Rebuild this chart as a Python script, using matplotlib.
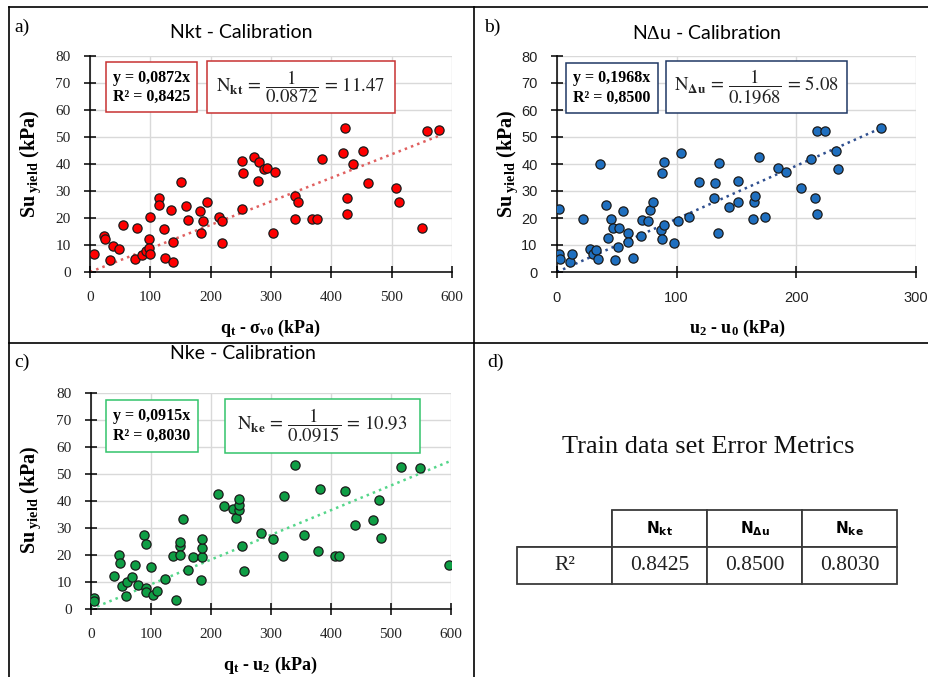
import matplotlib
matplotlib.use("Agg")
import matplotlib.pyplot as plt
from matplotlib.lines import Line2D
from matplotlib.patches import Rectangle

# --- données ---
a_x = [7, 23, 25, 33, 38, 48, 55, 74, 78, 86, 92, 97, 97, 99, 100, 114, 115, 123, 125, 134,
       138, 138, 151, 159, 162, 182, 184, 187, 194, 213, 218, 219, 252, 253, 252, 271, 280, 279, 288, 293,
       303, 306, 340, 345, 340, 368, 376, 385, 420, 423, 426, 426, 436, 453, 461, 507, 512, 550, 559, 578]
a_y = [6.5, 13.3, 12.4, 4.3, 9.5, 8.7, 17.4, 4.9, 16.2, 6.4, 7.9, 12.2, 9.0, 6.8, 20.2, 27.4, 25.0, 15.8, 5.3, 23.1,
       11.1, 3.7, 33.2, 24.4, 19.4, 22.5, 14.6, 18.8, 26.0, 20.2, 10.8, 18.8, 41.0, 36.7, 23.3, 42.6, 40.6, 33.6, 38.2, 38.4,
       14.4, 37.0, 28.1, 26.0, 19.8, 19.8, 19.8, 41.8, 43.9, 53.3, 27.4, 21.5, 40.1, 44.7, 32.9, 31.1, 26.0, 16.4, 52.2, 52.6]

b_x = [1.4, 1.4, 2.2, 10.8, 12.8, 21.4, 27.3, 30, 32.8, 34.2, 36.2, 40.6, 42.8, 45.3, 46.7, 48.4, 50.6, 51.7, 55.4, 59.5,
       59.5, 63.1, 70.4, 70.9, 75.7, 77.9, 80.1, 87.3, 87.9, 87.9, 89.6, 89.8, 97.6, 101.5, 103.8, 110.7, 118.5, 131, 131.8, 134.6,
       135.5, 144, 151, 151.3, 163.8, 164.4, 165.2, 168.6, 173.6, 185, 191.4, 204.2, 212, 216, 217, 217, 224, 233, 235, 270.7]
b_y = [23.4, 6.5, 4.7, 3.7, 6.8, 19.8, 8.7, 6.5, 8.2, 5.0, 40.1, 25.0, 12.6, 19.8, 16.4, 4.4, 9.1, 16.4, 22.5, 14.6,
       11.2, 5.3, 13.4, 19.4, 18.8, 23.0, 26.0, 15.6, 36.8, 12.2, 17.4, 40.9, 10.8, 18.8, 43.9, 20.2, 33.2, 27.4, 32.9, 14.4,
       40.5, 24.2, 33.6, 26.0, 19.8, 26.0, 28.1, 42.7, 20.2, 38.4, 37.0, 31.1, 41.8, 27.4, 52.4, 21.5, 52.2, 44.7, 38.2, 53.3]

c_x = [4.4, 4.4, 38, 47, 48, 51, 58, 60, 68, 74, 78, 88, 92, 92, 92, 100, 103, 110, 123, 141,
       136, 148, 148, 149, 153, 161, 170, 183, 185, 185, 185, 211, 221, 237, 241, 246, 247, 247, 252, 255,
       283, 304, 320, 322, 340, 355, 378, 382, 407, 413, 424, 440, 470, 480, 484, 516, 548, 596]
c_y = [4.1, 3.0, 12.3, 20.0, 17.2, 8.4, 4.7, 10.0, 12.0, 16.3, 8.9, 27.3, 24.2, 7.9, 6.2, 15.4, 5.1, 6.5, 11.1, 3.5,
       19.8, 23.2, 24.9, 20.0, 33.2, 14.6, 19.3, 10.9, 19.3, 22.5, 25.9, 42.6, 38.0, 37.0, 33.6, 36.8, 38.5, 40.7, 23.2, 14.1,
       28.0, 25.8, 19.8, 41.9, 53.2, 27.3, 21.5, 44.6, 19.8, 19.8, 43.8, 31.1, 32.8, 40.5, 26.3, 52.6, 52.2, 16.3]

pentes = [0.0872, 0.1968, 0.0915]
r2 = [0.8425, 0.8500, 0.8030]
facteurs = ["11.47", "5.08", "10.93"]
noms_n = ["kt", r"\Delta u", "ke"]
titres = [r"Nkt - Calibration", r"N$\Delta$u - Calibration", r"Nke - Calibration"]
xlabels = ["q$_{\\mathbf{t}}$ - σ$_{\\mathbf{v0}}$ (kPa)", "u$_{\\mathbf{2}}$ - u$_{\\mathbf{0}}$ (kPa)",
           "q$_{\\mathbf{t}}$ - u$_{\\mathbf{2}}$ (kPa)"]
table_cols = ["", "N$_{\\mathbf{kt}}$", "N$_{\\mathbf{\\Delta u}}$", "N$_{\\mathbf{ke}}$"]

plt.rcParams["mathtext.fontset"] = "custom"
plt.rcParams["mathtext.rm"] = "Liberation Serif"
plt.rcParams["mathtext.bf"] = "Liberation Serif:bold"
plt.rcParams["mathtext.it"] = "Liberation Serif:italic"

W, H = 929, 677
fig = plt.figure(figsize=(W / 100, H / 100), dpi=100)


def fx(x):
    return x / W


def fy(y):
    return 1 - y / H


def boite(x0, y0, x1, y1, couleur):
    fig.add_artist(Rectangle((fx(x0), fy(y1)), fx(x1) - fx(x0), fy(y0) - fy(y1),
                             transform=fig.transFigure, fill=True, fc="white",
                             ec=couleur, lw=1.1, zorder=5))


# cadre général
for (xa, ya, xb, yb) in [(9, 7, 929, 7), (9, 7, 9, 677), (474, 7, 474, 677), (9, 343, 929, 343)]:
    fig.add_artist(Line2D([fx(xa), fx(xb)], [fy(ya), fy(yb)], transform=fig.transFigure,
                          color="black", lw=1.2))

panneaux = [
    dict(pos=(90, 56, 452, 272), x=a_x, y=a_y, xmax=600, col="#ff0000", ligne="#e06060",
         bord="#c83232", serif=True, lab="a)", labpos=(14, 27), titre=(241, 33), ylab=(31, 164),
         xl=(270, 328), b1=(106, 62, 197, 112), b2=(207, 61, 395, 113)),
    dict(pos=(557, 56, 916, 272), x=b_x, y=b_y, xmax=300, col="#1f6fbf", ligne="#2f4f8f",
         bord="#1f3864", serif=False, lab="b)", labpos=(484, 27), titre=(707, 33), ylab=(508, 164),
         xl=(737, 328), b1=(566, 63, 658, 113), b2=(666, 61, 847, 113)),
    dict(pos=(91, 393, 451, 609), x=c_x, y=c_y, xmax=600, col="#0f9e45", ligne="#55d68a",
         bord="#33c46b", serif=True, lab="c)", labpos=(14, 362), titre=(243, 353), ylab=(31, 500),
         xl=(270, 665), b1=(106, 400, 198, 452), b2=(225, 399, 420, 453)),
]

for i, p in enumerate(panneaux):
    x0, y0, x1, y1 = p["pos"]
    ax = fig.add_axes([fx(x0), fy(y1), fx(x1) - fx(x0), fy(y0) - fy(y1)])
    ax.scatter(p["x"], p["y"], s=44, c=p["col"], edgecolors="#1a1a1a", linewidths=0.9, zorder=3)
    xm = max(p["x"])
    ax.plot([0, xm], [0, pentes[i] * xm], ls=":", lw=1.8, color=p["ligne"], zorder=2)
    ax.set_xlim(0, p["xmax"])
    ax.set_ylim(0, 80)
    ax.set_xticks(range(0, p["xmax"] + 1, 100))
    ax.set_yticks(range(0, 81, 10))
    ax.grid(True, color="#d9d9d9", lw=1)
    ax.set_axisbelow(True)
    for s in ["top", "right"]:
        ax.spines[s].set_visible(False)
    for s in ["left", "bottom"]:
        ax.spines[s].set_linewidth(1.1)
    ax.tick_params(direction="inout", length=8, width=1.1, pad=10)
    tfont = "Liberation Serif" if p["serif"] else "Liberation Sans"
    tsize = 11 if p["serif"] else 10.5
    for t in ax.get_xticklabels() + ax.get_yticklabels():
        t.set_fontfamily(tfont)
        t.set_fontsize(tsize)
        t.set_color("#222222")

    fig.text(fx(p["labpos"][0]), fy(p["labpos"][1]), p["lab"], family="Liberation Serif",
             fontsize=14, va="center", ha="left")
    fig.text(fx(p["titre"][0]), fy(p["titre"][1]), titres[i], family="Lato", fontsize=14,
             va="center", ha="center")
    fig.text(fx(p["ylab"][0]), fy(p["ylab"][1]), "Su$_{\\mathbf{\\ yield}}$ (kPa)",
             family="Liberation Serif", weight="bold", fontsize=14.5, rotation=90,
             va="center", ha="center")
    fig.text(fx(p["xl"][0]), fy(p["xl"][1]), xlabels[i], family="Liberation Serif",
             weight="bold", fontsize=13, va="center", ha="center")

    bx0, by0, bx1, by1 = p["b1"]
    boite(bx0, by0, bx1, by1, p["bord"])
    fig.text(fx((bx0 + bx1) / 2), fy((by0 + by1) / 2),
             f"y = {pentes[i]:.4f}x\nR² = {r2[i]:.4f}".replace(".", ","),
             family="Liberation Serif", weight="bold", fontsize=11.5, va="center", ha="center",
             linespacing=1.25, zorder=6)
    bx0, by0, bx1, by1 = p["b2"]
    boite(bx0, by0, bx1, by1, p["bord"])
    formule = (r"$\mathrm{N}_{\mathbf{" + noms_n[i] + r"}}\,=\,\dfrac{1}{" + f"{pentes[i]:.4f}"
               + r"}\,=\," + facteurs[i] + r"$")
    fig.text(fx((bx0 + bx1) / 2), fy((by0 + by1) / 2), formule, math_fontfamily="stix",
             fontsize=13.5, va="center", ha="center", zorder=6, color="#222222")

# --- panneau d ---
fig.text(fx(487), fy(362), "d)", family="Liberation Serif", fontsize=14, va="center", ha="left")
fig.text(fx(708), fy(447), "Train data set Error Metrics", family="Liberation Serif",
         fontsize=19, va="center", ha="center", color="#111111")

axd = fig.add_axes([fx(517), fy(584), fx(897) - fx(517), fy(510) - fy(584)])
axd.axis("off")
cellules = [table_cols, ["R²"] + [f"{v:.4f}" for v in r2]]
tab = axd.table(cellText=cellules, bbox=[0, 0, 1, 1], cellLoc="center")
tab.auto_set_font_size(False)
for (r, c), cell in tab.get_celld().items():
    cell.set_edgecolor("#3a3a3a")
    cell.set_linewidth(1.3)
    txt = cell.get_text()
    if r == 0:
        txt.set_fontfamily("DejaVu Sans")
        txt.set_fontweight("bold")
        txt.set_fontsize(11)
        txt.set_math_fontfamily("dejavusans")
        if c == 0:
            cell.visible_edges = "BR"
    else:
        txt.set_fontfamily("Liberation Serif")
        txt.set_fontsize(15.5)
        txt.set_color("#222222")

fig.savefig("out.png", dpi=100)
